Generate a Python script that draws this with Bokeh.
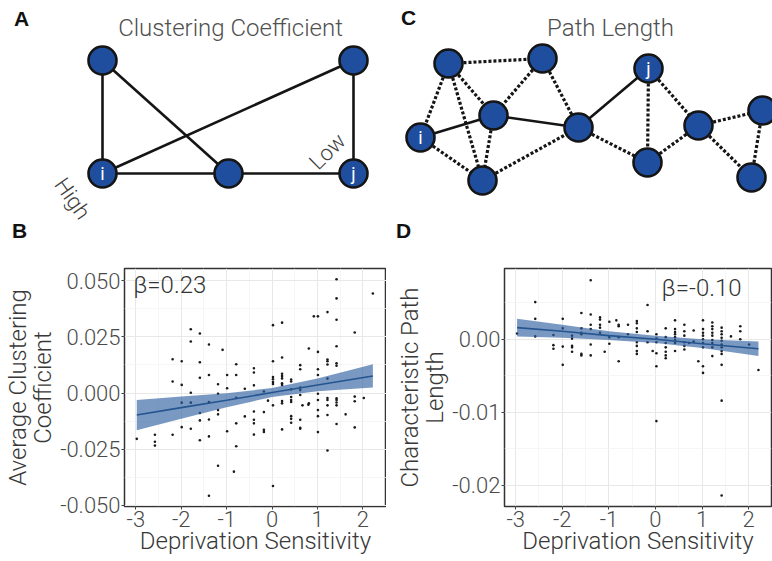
from bokeh.plotting import figure
from bokeh.layouts import column, row
from bokeh.models import FixedTicker, PrintfTickFormatter, Label, Range1d
from bokeh.embed import file_html
from bokeh.resources import INLINE
from bokeh.core.properties import value

W = 772
TOP_H = 248
BOT_H = 313
LIGHT = "Roboto Light"

# ---------------- network diagrams (px from left, px from top) ----------------
a_x = [102, 353, 102, 228, 353]
a_y = [60, 60, 173, 173, 173]
a_lab = ["", "", "i", "", "j"]
a_edges = [(0, 2), (0, 3), (1, 2), (1, 4), (2, 3), (3, 4)]

c_x = [448, 542, 648, 493, 420, 578, 482, 647, 698, 762, 751]
c_y = [63, 58, 68, 115, 137, 127, 180, 162, 125, 110, 177]
c_lab = ["", "", "j", "", "i", "", "", "", "", "", ""]
c_solid = [(4, 3), (3, 5), (5, 2)]
c_dotted = [(0, 1), (0, 4), (0, 3), (0, 6), (1, 3), (1, 5), (4, 6), (3, 6),
            (6, 5), (5, 7), (2, 7), (2, 8), (7, 8), (8, 9), (8, 10), (9, 10)]

titles = ["Clustering Coefficient", "Path Length"]
title_x = [230, 610]
title_y = [27, 27]
letters = ["A", "C", "B", "D"]
letter_x = [21, 408, 19, 403]
letter_y = [18, 17, 230, 230]

# ---------------- panel B data ----------------
b_x = [-2.98,
       -2.58, -2.58, -2.58,
       -2.19, -2.19, -2.19,
       -1.99, -1.99, -1.99, -1.99,
       -1.79, -1.79, -1.79, -1.79, -1.79,
       -1.59, -1.59, -1.59, -1.59, -1.59, -1.59,
       -1.39, -1.39, -1.39, -1.39, -1.39, -1.39,
       -1.19, -1.19, -1.19, -1.19, -1.19,
       -1.09,
       -0.99, -0.99, -0.99,
       -0.84,
       -0.79, -0.79, -0.79, -0.79, -0.79,
       -0.60, -0.60,
       -0.40, -0.40, -0.40, -0.40, -0.40, -0.40, -0.40,
       -0.18, -0.18, -0.18, -0.18,
       -0.09,
       0.02, 0.02, 0.02, 0.02, 0.02, 0.02, 0.02, 0.02,
       0.22, 0.22, 0.22, 0.22, 0.22, 0.22, 0.22, 0.22, 0.22, 0.22,
       0.42, 0.42, 0.42, 0.42, 0.42, 0.42, 0.42, 0.42, 0.42,
       0.62, 0.62, 0.62, 0.62, 0.62, 0.62, 0.62, 0.62,
       0.67,
       0.81, 0.81, 0.80,
       0.92,
       1.01, 1.01, 1.01, 1.01, 1.01, 1.01, 1.01, 1.01, 1.01,
       1.22, 1.22, 1.22, 1.22, 1.22, 1.22, 1.22, 1.22, 1.22, 1.22,
       1.42, 1.42, 1.42, 1.42, 1.42, 1.42, 1.42, 1.42, 1.42, 1.42, 1.42,
       1.62,
       1.82, 1.82, 1.82, 1.82,
       2.02,
       2.22]
b_y = [-0.0204,
       -0.0186, -0.0217, -0.0234,
       0.0150, 0.0051, -0.0186,
       0.0141, 0.0036, -0.0043, -0.0152,
       0.0284, 0.0229, 0.0001, -0.0043, -0.0159,
       0.0265, 0.0137, 0.0068, -0.0089, -0.0122, -0.0210,
       0.0216, 0.0080, -0.0040, -0.0118, -0.0193, -0.0457,
       0.0039, -0.0003, -0.0076, -0.0095, -0.0324,
       0.0192,
       0.0080, 0.0021, -0.0170,
       -0.0350,
       0.0128, 0.0080, -0.0021, -0.0135, -0.0237,
       0.0019, -0.0104,
       0.0110, 0.0091, 0.0034, -0.0082, -0.0119, -0.0135, -0.0185,
       0.0007, -0.0085, -0.0164, -0.0173,
       -0.0034,
       0.0302, 0.0141, 0.0071, 0.0061, 0.0049, 0.0040, -0.0055, -0.0414,
       0.0313, 0.0158, 0.0086, 0.0076, 0.0065, 0.0043, 0.0036, -0.0036, -0.0046, -0.0162,
       0.0060, 0.0051, 0.0016, -0.0018, -0.0031, -0.0040, -0.0103, -0.0115, -0.0132,
       0.0124, 0.0106, 0.0024, 0.0013, -0.0009, -0.0119, -0.0155, -0.0159,
       -0.0055,
       0.0198, -0.0046, -0.0052,
       0.0341,
       0.0341, 0.0183, 0.0106, 0.0080, -0.0003, -0.0031, -0.0076, -0.0103, -0.0174,
       0.0360, 0.0149, 0.0141, 0.0127, 0.0064, -0.0022, -0.0031, -0.0055, -0.0098, -0.0256,
       0.0506, 0.0421, 0.0326, 0.0208, 0.0132, 0.0121, -0.0024, -0.0031, -0.0042, -0.0055, -0.0138,
       -0.0095,
       0.0269, -0.0016, -0.0037, -0.0153,
       -0.0022,
       0.0443]
b_fit_x = [-2.98, -2.0, -1.0, 0.0, 1.0, 2.22]
b_fit_y = [-0.0098, -0.0065, -0.0032, 0.0002, 0.0036, 0.0076]
b_fit_lo = [-0.0166, -0.0114, -0.0063, -0.0018, 0.0008, 0.0024]
b_fit_hi = [-0.0031, -0.0016, -0.0001, 0.0022, 0.0064, 0.0128]

# ---------------- panel D data ----------------
d_x = [-2.97,
       -2.58, -2.58, -2.58,
       -2.19, -2.19, -2.19,
       -1.99, -1.99, -1.99, -1.99,
       -1.79, -1.79, -1.79, -1.79, -1.79,
       -1.59, -1.59, -1.59, -1.59, -1.59, -1.59,
       -1.39, -1.39, -1.39, -1.39, -1.39, -1.39,
       -1.19, -1.19, -1.19, -1.19, -1.19,
       -1.09,
       -0.99, -0.99, -0.99,
       -0.84,
       -0.79, -0.79, -0.79, -0.79,
       -0.59, -0.59,
       -0.40, -0.40, -0.40, -0.40, -0.40, -0.40, -0.40, -0.40,
       -0.17, -0.17, -0.17,
       -0.06,
       0.02, 0.02, 0.02, 0.02, 0.02, 0.02,
       0.22, 0.22, 0.22, 0.22, 0.22, 0.22, 0.22,
       0.42, 0.42, 0.42, 0.42, 0.42, 0.42, 0.42, 0.42,
       0.62, 0.62, 0.62, 0.62, 0.62, 0.62,
       0.72,
       0.82, 0.82,
       0.92,
       1.02, 1.02, 1.02, 1.02, 1.02, 1.02, 1.02, 1.02, 1.02,
       1.22, 1.22, 1.22, 1.22, 1.22, 1.22, 1.22, 1.22, 1.22,
       1.42, 1.42, 1.42, 1.42, 1.42, 1.42, 1.42, 1.42, 1.42, 1.42, 1.42, 1.42,
       1.62,
       1.82, 1.82, 1.82,
       2.01,
       2.21]
d_y = [0.0008,
       0.0051, 0.0028, 0.0004,
       0.0006, -0.0008, -0.0013,
       0.0028, 0.0015, -0.0010, -0.0035,
       0.0005, 0.0001, -0.0009, -0.0011, -0.0017,
       0.0036, 0.0015, 0.0009, 0.0007, -0.0020, -0.0022,
       0.0081, 0.0034, 0.0020, 0.0014, -0.0007, -0.0022,
       0.0030, 0.0027, 0.0020, 0.0016, 0.0009,
       -0.0017,
       0.0024, 0.0003, -0.0006,
       0.0026,
       0.0020, 0.0018, 0.0003, -0.0030,
       0.0020, 0.0007,
       0.0025, 0.0022, 0.0015, 0.0010, -0.0004, -0.0009, -0.0016, -0.0020,
       0.0047, 0.0011, -0.0004,
       -0.0016,
       0.0007, 0.0001, -0.0004, -0.0019, -0.0037, -0.0112,
       0.0015, 0.0003, -0.0005, -0.0011, -0.0017, -0.0022, -0.0026,
       0.0026, 0.0014, 0.0010, 0.0007, 0.0003, -0.0001, -0.0005, -0.0016,
       0.0020, 0.0011, 0.0005, -0.0004, -0.0009, -0.0014,
       -0.0005,
       0.0012, -0.0003,
       -0.0030,
       0.0026, 0.0014, 0.0009, 0.0005, 0.0000, -0.0005, -0.0011, -0.0037, -0.0046,
       0.0023, 0.0018, 0.0014, 0.0009, 0.0005, -0.0001, -0.0005, -0.0011, -0.0023,
       0.0016, 0.0011, 0.0007, 0.0002, -0.0002, -0.0007, -0.0011, -0.0016, -0.0020, -0.0035, -0.0084, -0.0214,
       0.0004,
       0.0018, 0.0011, 0.0000,
       -0.0007,
       -0.0042]
d_fit_x = [-2.97, -2.0, -1.0, 0.0, 1.0, 2.21]
d_fit_y = [0.0016, 0.0011, 0.0005, 0.0000, -0.0006, -0.0013]
d_fit_lo = [0.0004, 0.0002, -0.0001, -0.0005, -0.0012, -0.0023]
d_fit_hi = [0.0028, 0.0020, 0.0011, 0.0005, 0.0000, -0.0003]

x_ticks = [-3, -2, -1, 0, 1, 2]
x_minor = [-2.5, -1.5, -0.5, 0.5, 1.5]
b_yticks = [-0.05, -0.025, 0.0, 0.025, 0.05]
b_yminor = [-0.0375, -0.0125, 0.0125, 0.0375]
d_yticks = [-0.02, -0.01, 0.0]
d_yminor = [-0.015, -0.005, 0.005]

# ---------------- top figure: diagrams ----------------
top = figure(width=W, height=TOP_H, x_range=Range1d(0, W), y_range=Range1d(0, TOP_H),
             output_backend="svg", toolbar_location=None, min_border=0)
top.axis.visible = False
top.grid.visible = False
top.outline_line_color = None


def flip(ys):
    return [TOP_H - v for v in ys]


def seg(xs, ys, edges):
    return ([xs[a] for a, b in edges], [TOP_H - ys[a] for a, b in edges],
            [xs[b] for a, b in edges], [TOP_H - ys[b] for a, b in edges])


x0, y0, x1, y1 = seg(a_x, a_y, a_edges)
top.segment(x0, y0, x1, y1, line_color="#151515", line_width=2.6)
x0, y0, x1, y1 = seg(c_x, c_y, c_solid)
top.segment(x0, y0, x1, y1, line_color="#151515", line_width=2.6)
x0, y0, x1, y1 = seg(c_x, c_y, c_dotted)
top.segment(x0, y0, x1, y1, line_color="#151515", line_width=3.2, line_dash="3 2")

for xs, ys, labs in [(a_x, a_y, a_lab), (c_x, c_y, c_lab)]:
    top.scatter(xs, flip(ys), size=28, fill_color="#1f4e9e", line_color="#151515", line_width=2.6)
    top.text(xs, flip(ys), text=labs, text_color="white", text_align="center",
             text_baseline="middle", text_font_size="18px", text_font=value("Roboto"))

top.text(title_x, flip(title_y), text=titles, text_align="center", text_baseline="alphabetic",
         text_font_size="24px", text_color="#505050", text_font=value(LIGHT))
top.text(letter_x, flip(letter_y), text=letters, text_align="center", text_baseline="middle",
         text_font_size="21px", text_font_style="bold", text_color="#111111",
         text_font=value("Liberation Sans"))
top.text([72], flip([198]), text=["High"], angle=-0.96, text_align="center", text_baseline="middle",
         text_font_size="22px", text_color="#404040", text_font=value(LIGHT))
top.text([327], flip([151]), text=["Low"], angle=0.78, text_align="center", text_baseline="middle",
         text_font_size="22px", text_color="#404040", text_font=value(LIGHT))


# ---------------- scatter panels ----------------
def panel(xr, yr, yticks, yminor, yfmt, ylabel, xs, ys, fx, fy, flo, fhi, beta, bx, by, mbr):
    p = figure(width=386, height=BOT_H, x_range=Range1d(*xr), y_range=Range1d(*yr),
               output_backend="svg", toolbar_location=None,
               min_border_left=118, min_border_right=mbr, min_border_top=20, min_border_bottom=55)
    p.xaxis.ticker = FixedTicker(ticks=x_ticks, minor_ticks=x_minor)
    p.yaxis.ticker = FixedTicker(ticks=yticks, minor_ticks=yminor)
    p.xaxis.formatter = PrintfTickFormatter(format="%d")
    p.yaxis.formatter = PrintfTickFormatter(format=yfmt)
    p.xaxis.axis_label = "Deprivation Sensitivity"
    p.yaxis.axis_label = ylabel
    for ax in p.axis:
        ax.axis_line_color = None
        ax.major_tick_line_color = "#444444"
        ax.major_tick_out = 3
        ax.major_tick_in = 0
        ax.minor_tick_line_color = None
        ax.major_label_standoff = 0
        ax.axis_label_standoff = 0
        ax.major_label_text_font = LIGHT
        ax.major_label_text_font_size = "22px"
        ax.major_label_text_color = "#4a4a4a"
        ax.axis_label_text_font = LIGHT
        ax.axis_label_text_font_size = "24px"
        ax.axis_label_text_font_style = "normal"
        ax.axis_label_text_color = "#383838"
        ax.axis_label_text_line_height = 0.9
    p.xaxis.axis_label_standoff = -3
    p.grid.grid_line_color = "#e8e8e8"
    p.grid.grid_line_width = 1
    p.grid.minor_grid_line_color = "#f2f2f2"
    p.grid.minor_grid_line_width = 0.7
    p.outline_line_color = "#333333"
    p.outline_line_width = 1.5
    p.scatter(xs, ys, size=2.6, fill_color="#1a1a1a", line_color=None)
    p.varea(x=fx, y1=flo, y2=fhi, fill_color="#2f5f9f", fill_alpha=0.64)
    p.line(fx, fy, line_color="#24558f", line_width=1.6)
    p.add_layout(Label(x=bx, y=by, text=beta, text_baseline="top", text_align="left",
                       text_font=LIGHT, text_font_size="24px", text_color="#333333"))
    return p


pB = panel((-3.25, 2.52), (-0.0505, 0.0554), b_yticks, b_yminor, "%.3f",
           "Average Clustering\nCoefficient", b_x, b_y, b_fit_x, b_fit_y, b_fit_lo, b_fit_hi,
           "β=0.23", -3.06, 0.0545, 0)
pD = panel((-3.24, 2.49), (-0.0229, 0.0097), d_yticks, d_yminor, "%.2f",
           "Characteristic Path\nLength", d_x, d_y, d_fit_x, d_fit_y, d_fit_lo, d_fit_hi,
           "β=-0.10", 0.13, 0.0089, 1)

layout = column(top, row(pB, pD, spacing=0), spacing=0)
open("out.html", "w").write(file_html(layout, INLINE))
